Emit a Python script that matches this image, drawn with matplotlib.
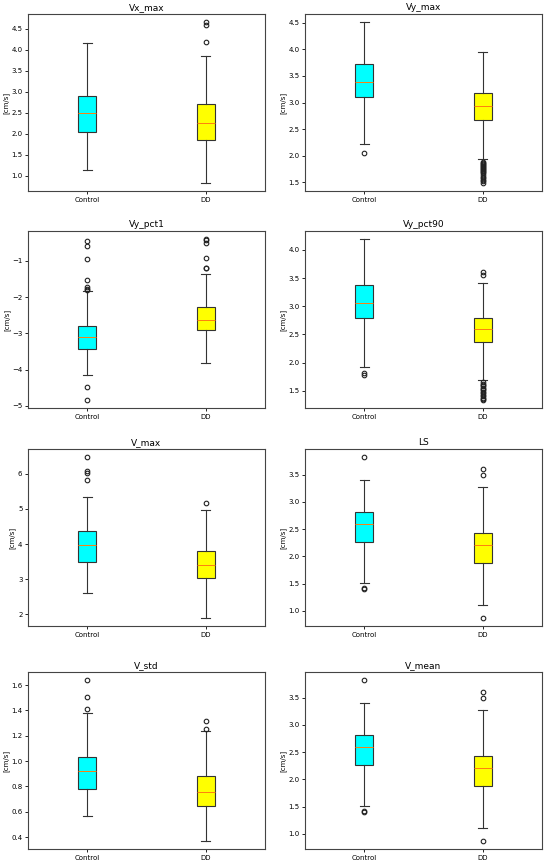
import matplotlib
matplotlib.use("Agg")
import matplotlib.pyplot as plt

# group labels
groups = ["Control", "DD"]
titles = ["Vx_max", "Vy_max", "Vy_pct1", "Vy_pct90", "V_max", "LS", "V_std", "V_mean"]

# box stats: [q1, median, q3, whisker low, whisker high]
control_stats = [
    [2.04, 2.49, 2.91, 1.15, 4.17],
    [3.11, 3.39, 3.72, 2.23, 4.51],
    [-3.44, -3.11, -2.81, -4.15, -1.84],
    [2.79, 3.06, 3.37, 1.92, 4.19],
    [3.49, 3.98, 4.36, 2.60, 5.33],
    [2.27, 2.60, 2.82, 1.51, 3.40],
    [0.78, 0.92, 1.03, 0.57, 1.38],
    [2.27, 2.60, 2.82, 1.51, 3.40],
]
dd_stats = [
    [1.85, 2.25, 2.71, 0.83, 3.86],
    [2.68, 2.93, 3.18, 1.94, 3.94],
    [-2.91, -2.62, -2.28, -3.82, -1.36],
    [2.37, 2.59, 2.80, 1.70, 3.42],
    [3.03, 3.40, 3.79, 1.90, 4.96],
    [1.87, 2.20, 2.43, 1.10, 3.27],
    [0.645, 0.76, 0.88, 0.37, 1.24],
    [1.87, 2.20, 2.43, 1.10, 3.27],
]

# outliers
control_fliers = [
    [],
    [2.05],
    [-0.46, -0.60, -0.96, -1.52, -1.72, -1.78, -1.81, -4.47, -4.84],
    [1.81, 1.79],
    [6.47, 6.06, 6.01, 5.83],
    [3.82, 1.42, 1.40],
    [1.64, 1.505, 1.41],
    [3.82, 1.42, 1.40],
]
dd_fliers = [
    [4.66, 4.60, 4.18],
    [1.89, 1.87, 1.85, 1.83, 1.81, 1.79, 1.77, 1.75, 1.73, 1.71, 1.69, 1.67,
     1.64, 1.61, 1.58, 1.55, 1.52, 1.49],
    [-0.40, -0.44, -0.50, -0.92, -1.19, -1.21],
    [3.60, 3.56, 1.66, 1.63, 1.61, 1.58, 1.56, 1.53, 1.51, 1.48, 1.46, 1.43,
     1.41, 1.38, 1.36, 1.34],
    [5.17],
    [3.60, 3.50, 0.87],
    [1.32, 1.25],
    [3.60, 3.50, 0.87],
]

colors = ["cyan", "yellow"]

plt.rcParams["font.size"] = 5

W, H = 550, 864
fig = plt.figure(figsize=(W / 100, H / 100), dpi=100)

lefts = [28, 305]
tops = [14, 231, 449, 672]
aw, ah = 237, 177

def to_dict(s, fl, lab):
    return dict(q1=s[0], med=s[1], q3=s[2], whislo=s[3], whishi=s[4], fliers=fl, label=lab)

for i, title in enumerate(titles):
    r, c = divmod(i, 2)
    ax = fig.add_axes([lefts[c] / W, 1 - (tops[r] + ah) / H, aw / W, ah / H])
    stats = [to_dict(control_stats[i], control_fliers[i], groups[0]),
             to_dict(dd_stats[i], dd_fliers[i], groups[1])]
    bp = ax.bxp(stats, patch_artist=True, showfliers=True,
                boxprops=dict(linewidth=0.8, edgecolor="#333333"),
                whiskerprops=dict(linewidth=0.8, color="#333333"),
                capprops=dict(linewidth=0.8, color="#333333"),
                medianprops=dict(linewidth=0.7, color="#ff7f0e"),
                flierprops=dict(marker="o", markersize=3.3, markerfacecolor="none",
                                markeredgecolor="#222222", markeredgewidth=0.8))
    for patch, col in zip(bp["boxes"], colors):
        patch.set_facecolor(col)
    ax.set_title(title, fontsize=6.5, pad=3)
    ax.set_ylabel("[cm/s]", fontsize=5, labelpad=1.5)
    ax.tick_params(length=2.5, width=0.6, pad=1.5)
    for sp in ax.spines.values():
        sp.set_linewidth(0.8)
        sp.set_color("#444444")

fig.savefig("out.png", dpi=100)
